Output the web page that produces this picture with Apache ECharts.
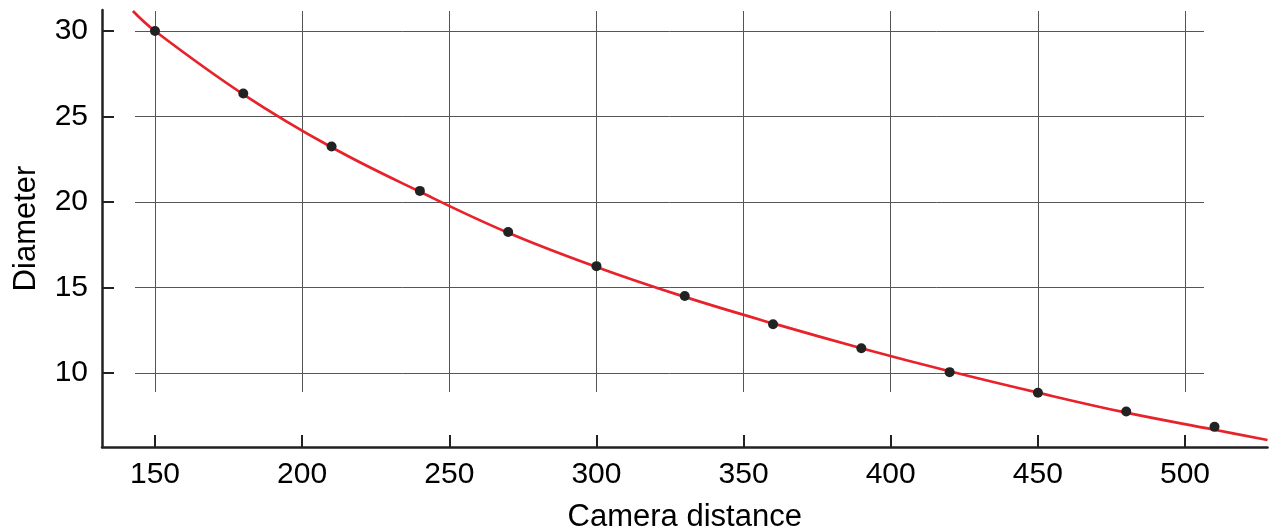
<!DOCTYPE html>
<html>
<head>
<meta charset="utf-8">
<script src="https://cdn.jsdelivr.net/npm/echarts@6/dist/echarts.min.js"></script>
<style>html,body{margin:0;padding:0;background:#fff}#c{width:1275px;height:531px}</style>
</head>
<body>
<div id="c"></div>
<script>
// Measured points
var distance = [150, 180, 210, 240, 270, 300, 330, 360, 390, 420, 450, 480, 510];
var diameter = [30.0, 26.35, 23.25, 20.65, 18.25, 16.25, 14.5, 12.85, 11.45, 10.05, 8.85, 7.75, 6.85];
// Fitted curve
var fitX = [142.5, 150, 180, 210, 240, 270, 300, 330, 360, 390, 420, 450, 480, 510, 528];
var fitY = [31.17, 30.0, 26.3, 23.2, 20.6, 18.2, 16.2, 14.45, 12.9, 11.45, 10.1, 8.85, 7.68, 6.68, 6.08];
var xTicks = [150, 200, 250, 300, 350, 400, 450, 500];
var yTicks = [10, 15, 20, 25, 30];

var FONT = 'Liberation Sans, Arial, sans-serif';
var ink = '#222222';
var gridColor = '#555555';

var chart = echarts.init(document.getElementById('c'), null, {renderer: 'canvas'});
chart.setOption({
  animation: false,
  backgroundColor: '#ffffff',
  grid: [
    {left: 102, width: 1165.5, top: 10, height: 437, outerBoundsMode: 'none', containLabel: false},
    {left: 135, width: 1069, top: 31, height: 342, outerBoundsMode: 'none', containLabel: false},
    {left: 155, width: 1030, top: 11, height: 381, outerBoundsMode: 'none', containLabel: false}
  ],
  xAxis: [
    {gridIndex: 0, type: 'value', min: 132, max: 528,
     name: 'Camera distance', nameLocation: 'middle', nameGap: 55,
     nameTextStyle: {fontFamily: FONT, fontSize: 31, color: '#000'},
     axisLine: {show: true, onZero: false, lineStyle: {color: ink, width: 2.5}},
     axisTick: {show: false}, axisLabel: {show: false}, splitLine: {show: false}},
    {gridIndex: 1, type: 'value', min: 143.2, max: 506.5, show: false},
    {gridIndex: 2, type: 'value', min: xTicks[0], max: xTicks[xTicks.length - 1], interval: 50,
     offset: 55,
     axisLine: {show: false},
     axisTick: {show: true, inside: true, length: 12, lineStyle: {color: ink, width: 2}},
     axisLabel: {show: true, margin: 13, fontFamily: FONT, fontSize: 30, color: '#000'},
     splitLine: {show: true, lineStyle: {color: gridColor, width: 1}}}
  ],
  yAxis: [
    {gridIndex: 0, type: 'value', min: 5.673, max: 31.228,
     name: 'Diameter', nameLocation: 'middle', nameGap: 60,
     nameTextStyle: {fontFamily: FONT, fontSize: 31, color: '#000'},
     axisLine: {show: true, onZero: false, lineStyle: {color: ink, width: 2.5}},
     axisTick: {show: false}, axisLabel: {show: false}, splitLine: {show: false}},
    {gridIndex: 1, type: 'value', min: yTicks[0], max: yTicks[yTicks.length - 1], interval: 5,
     offset: 33,
     axisLine: {show: false},
     axisTick: {show: true, inside: true, length: 12, lineStyle: {color: ink, width: 2}},
     axisLabel: {show: true, margin: 14, fontFamily: FONT, fontSize: 30, color: '#000'},
     splitLine: {show: true, lineStyle: {color: gridColor, width: 1}}},
    {gridIndex: 2, type: 'value', min: 8.89, max: 31.17, show: false}
  ],
  series: [
    {type: 'line', xAxisIndex: 0, yAxisIndex: 0, smooth: 0.4, showSymbol: false,
     data: fitX.map(function (x, i) { return [x, fitY[i]]; }),
     lineStyle: {color: '#e8222b', width: 2.7}, z: 3},
    {type: 'scatter', xAxisIndex: 0, yAxisIndex: 0, symbolSize: 10,
     data: distance.map(function (x, i) { return [x, diameter[i]]; }),
     itemStyle: {color: ink, opacity: 1}, z: 4}
  ]
});
</script>
</body>
</html>
